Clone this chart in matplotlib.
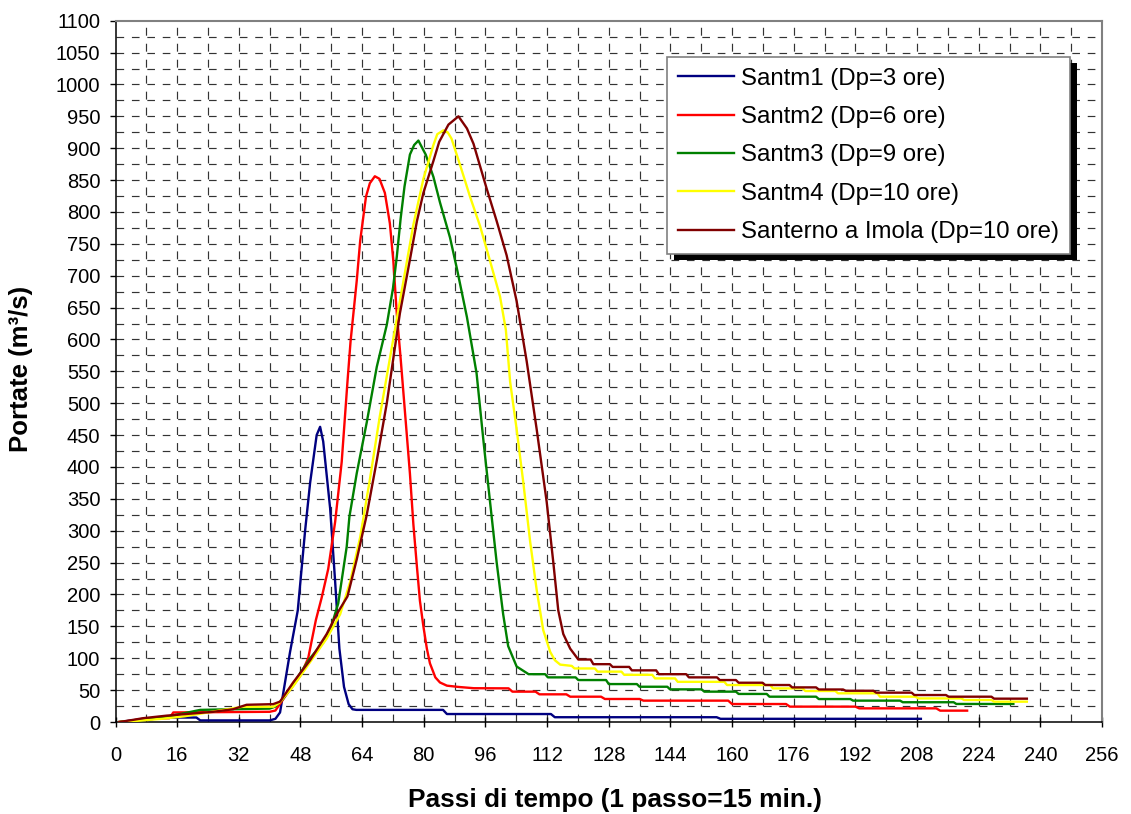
import matplotlib
matplotlib.use("Agg")
import matplotlib.pyplot as plt
from matplotlib.patches import Rectangle

plt.rcParams['font.family'] = ['Liberation Sans', 'DejaVu Sans']
plt.rcParams['lines.scale_dashes'] = False

# ---------------- data ----------------
x_ticks = list(range(0, 257, 16))
y_ticks = list(range(0, 1101, 50))

labels = ["Santm1 (Dp=3 ore)", "Santm2 (Dp=6 ore)", "Santm3 (Dp=9 ore)",
          "Santm4 (Dp=10 ore)", "Santerno a Imola (Dp=10 ore)"]
colors = ["#000080", "#FF0000", "#008000", "#FFFF00", "#800000"]

steps_santm1 = [1, 5, 10, 13, 21, 22, 40, 41.5, 42.7, 45.3, 47.3, 49.2, 50.5, 52.2, 53.1, 53.9,
                55.7, 57.0, 58.1, 59.3, 60.5, 61.5, 62.5, 85, 86, 113, 114, 156, 157, 209]
q_santm1 = [0, 3, 5, 7, 7, 2.5, 2.5, 5, 15, 110, 175, 300, 375, 450, 463, 440,
            335, 220, 115, 55, 28, 20, 19, 19, 12.5, 12.5, 7.5, 7.5, 5, 5]

steps_santm2 = [1, 4, 7, 14, 15, 40, 41.5, 44, 47.9, 50, 52, 53.5, 55.2, 57, 58.7, 60.2, 61,
                62.6, 63.5, 65, 66, 67.3, 68.5, 69.9, 71.2, 72.1, 73, 74, 75, 76.4, 77.3,
                78.2, 79, 79.9, 80.8, 81.6, 83, 84.2, 86, 89, 93,
                102, 103, 109, 110, 117, 118, 126, 127, 136, 137, 159, 160, 174, 175,
                192, 193, 213, 214, 221]
q_santm2 = [0, 2, 5, 6, 15, 16, 18, 40, 72, 100, 160, 195, 240, 314, 408, 534, 597,
            692, 755, 824, 845, 856, 852, 830, 782, 723, 640, 570, 495, 390, 310,
            245, 190, 150, 115, 92, 70, 62, 57, 55, 53,
            52.8, 47.6, 47.6, 43.4, 43.4, 39.7, 39.7, 36.1, 36.1, 33.5, 33.5, 28.2, 28.2, 24.1,
            24.1, 21.4, 21.4, 17.8, 17.8]

steps_santm3 = [1, 5, 10, 13, 18, 22, 30, 40, 41.4, 43.6, 47, 50.5, 53.9, 55.7, 57.8, 60,
                60.7, 62.6, 65.2, 67.8, 70.4, 72, 73, 74, 75, 76.4, 77.5, 78.6, 80.5, 82.5,
                84.2, 86.8, 88.6, 91.2, 93.7, 95.5, 97.2, 98.9, 100.6, 101.9, 104.1, 107.2,
                111.5, 112.2, 119.4, 120.1, 127.3, 128, 135.3, 136, 143.2, 143.9, 152.1,
                152.8, 161, 161.7, 169, 169.7, 181.8, 182.5, 190.7, 191.4, 203.6, 204.3,
                217.5, 218.2, 233]
q_santm3 = [0, 2, 5, 8, 14, 19, 20, 21, 24, 37, 68, 100, 125, 144, 186, 275,
            322, 390, 470, 557, 623, 680, 730, 790, 840, 890, 905, 912, 890, 855,
            815, 760, 711, 635, 547, 440, 345, 251, 169, 119, 87, 75,
            75, 70, 70, 65.8, 65.8, 59.5, 59.5, 55.3, 55.3, 51.2, 51.2,
            47.6, 47.6, 44, 44, 39.7, 39.7, 36, 36, 33.5, 33.5, 31,
            31, 28.3, 28.3]

steps_santm4 = [1, 6, 12, 18, 22, 26, 30, 33, 41, 42.5, 46.1, 50.5, 54.8, 58.3, 60.9, 63.5,
                66, 68.6, 71.2, 73.8, 77.3, 79.9, 82.5, 83.5, 85.1, 86.2, 87.2, 89.4, 92,
                94.6, 97.2, 99.8, 101.3, 102.4, 104.1, 105.8, 107.6, 109.3, 111, 112.8,
                114, 115.4, 118.4, 119.1, 124.4, 125.1, 131.3, 132, 139.3, 140, 145.2,
                145.9, 158, 158.7, 169.9, 170.6, 178.3, 179, 186.8, 187.5, 197.7, 198.4,
                207.6, 208.3, 219.5, 220.2, 227.3, 228, 236.5]
q_santm4 = [0, 2, 5, 9, 13, 17, 21, 24, 24, 30, 56, 94, 131, 169, 220, 290,
            380, 480, 570, 660, 780, 852, 905, 922, 928, 925, 915, 874, 824,
            778, 723, 667, 615, 534, 459, 377, 283, 207, 144, 110,
            97, 90, 88, 84, 84, 79, 79, 74, 74, 68.4, 68.4,
            63, 63, 58, 58, 52.7, 52.7, 48.6, 48.6, 45, 45, 39.7,
            39.7, 37, 37, 34.5, 34.5, 31.9, 31.9]

steps_imola = [1, 4.2, 7.2, 13.3, 19.3, 25.4, 30.5, 34, 40.9, 42.7, 46.1, 50.5, 54.8, 57.4,
               60.2, 62.6, 65.2, 67.8, 70.4, 73.8, 76.4, 78.2, 79.9, 82.5, 84, 86.4, 89,
               91.2, 92.9, 96.3, 98.9, 101.5, 104.1, 106.7, 109.3, 111.9, 113.6, 114.9,
               116.2, 118, 120.1, 123.3, 124, 128.3, 129, 133.3, 134, 140.3, 141, 148.1,
               148.8, 156.1, 156.8, 161, 161.7, 167.9, 168.6, 174.9, 175.6, 181.8, 182.5,
               188.8, 189.5, 196.7, 197.4, 206.6, 207.3, 215.5, 216.2, 227.3, 228, 236.5]
q_imola = [0, 3, 6, 10, 13, 16, 20, 27, 28, 32, 62, 97, 138, 169,
           197, 255, 325, 410, 500, 641, 725, 785, 830, 880, 910, 937, 950,
           931, 907, 837, 786, 732, 660, 566, 459, 345, 251, 175,
           138, 115, 98, 98, 90.7, 90.7, 86.4, 86.4, 81, 81, 75, 75,
           70, 70, 65.8, 65.8, 61.6, 61.6, 58, 58, 54.3, 54.3, 51,
           51, 49, 49, 46, 46, 42.3, 42.3, 39.7, 39.7, 36.6, 36.6]

series_steps = [steps_santm1, steps_santm2, steps_santm3, steps_santm4, steps_imola]
series_q = [q_santm1, q_santm2, q_santm3, q_santm4, q_imola]

# ---------------- figure ----------------
W, H = 1131, 814
fig = plt.figure(figsize=(W / 100, H / 100), dpi=100)
ax_l, ax_r, ax_t, ax_b = 115.5, 1102, 20.7, 722
ax = fig.add_axes([ax_l / W, 1 - ax_b / H, (ax_r - ax_l) / W, (ax_b - ax_t) / H])
ax.set_xlim(0, 256)
ax.set_ylim(0, 1100)

# dashed grid (every 25 units / every 8 steps)
grid_col = "#333333"
for yv in range(25, 1100, 25):
    ax.axhline(yv, color=grid_col, lw=0.85, linestyle=(0, (5.5, 5.6)), zorder=1)
for xv in range(8, 256, 8):
    ax.axvline(xv, color=grid_col, lw=0.85, linestyle=(0, (5.7, 5.8)), zorder=1)

for xs, qs, lab, col in zip(series_steps, series_q, labels, colors):
    ax.plot(xs, qs, color=col, lw=1.7, label=lab, zorder=3, solid_joinstyle="round")

ax.set_xticks(x_ticks)
ax.set_yticks(y_ticks)
ax.tick_params(axis="x", direction="inout", length=7, width=1, labelsize=14.5, pad=14)
ax.tick_params(axis="y", direction="out", length=4, width=1, labelsize=14.5, pad=7)

for s in ["left", "bottom"]:
    ax.spines[s].set_color("black")
    ax.spines[s].set_linewidth(1.1)
for s in ["top", "right"]:
    ax.spines[s].set_color("#808080")
    ax.spines[s].set_linewidth(1.5)

fig.text(615 / W, 1 - 800 / H, "Passi di tempo (1 passo=15 min.)", fontsize=18.9,
         fontweight="bold", ha="center", va="center")
fig.text(21 / W, 1 - 369 / H, "Portate (m³/s)", fontsize=18.5, fontweight="bold",
         ha="center", va="center", rotation=90)

leg = ax.legend(loc="upper left", bbox_to_anchor=((667 - ax_l) / (ax_r - ax_l), (ax_b - 57) / (ax_b - ax_t)),
                borderaxespad=0, fontsize=17.3, frameon=True, fancybox=False,
                edgecolor="#808080", framealpha=1, handlelength=2.35, handletextpad=0.3,
                labelspacing=0.68, borderpad=0.45)
leg.get_frame().set_linewidth(1.2)
for lh in leg.get_lines():
    lh.set_linewidth(1.7)

fig.canvas.draw()
bb = leg.get_window_extent()
inv = ax.transAxes.inverted()
(x0, y0) = inv.transform((bb.x0 + 7, bb.y0 - 6))
(x1, y1) = inv.transform((bb.x1 + 7, bb.y1 - 6))
ax.add_patch(Rectangle((x0, y0), x1 - x0, y1 - y0, transform=ax.transAxes,
                       facecolor="black", edgecolor="none", zorder=4.9, clip_on=False))

fig.savefig("out.png", dpi=100, facecolor="white")
